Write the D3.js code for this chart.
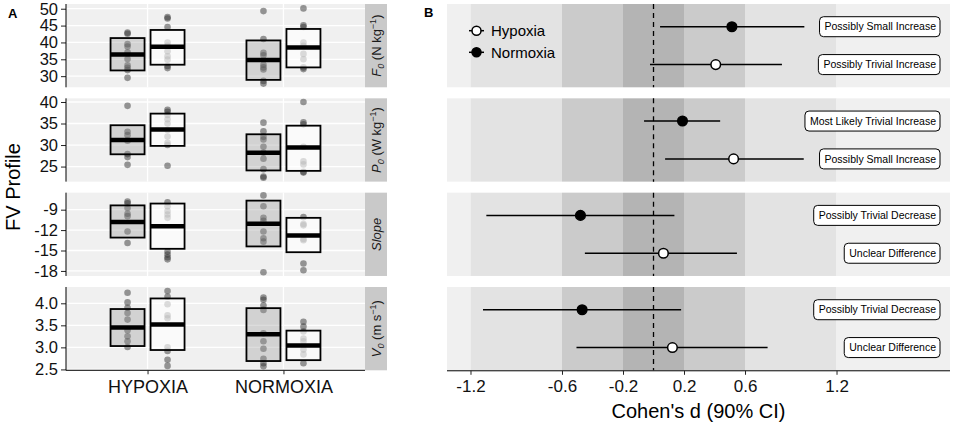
<!DOCTYPE html>
<html><head><meta charset="utf-8">
<script src="https://cdn.jsdelivr.net/npm/d3@7"></script>
<style>
body{margin:0;background:#fff;}
svg{display:block;font-family:"Liberation Sans",Arial,Helvetica,sans-serif;}
</style></head>
<body><svg id="c" width="964" height="429"></svg>
<script>
// ---------------- DATA ----------------
const conditions = ["HYPOXIA", "NORMOXIA"];
const times = ["Pre", "Post"];
const facets = ["F0", "P0", "Slope", "V0"];

// y-axis domains and tick labels per facet
const f0Domain = [26.7, 51.4], f0Ticks = [30, 35, 40, 45, 50];
const p0Domain = [21.5, 40.85], p0Ticks = [25, 30, 35, 40];
const slopeDomain = [-18.74, -6.5], slopeTicks = [-18, -15, -12, -9];
const v0Domain = [2.48, 4.37], v0Ticks = [2.5, 3.0, 3.5, 4.0];

// crossbars [lower, mean, upper]: HYPOXIA Pre, HYPOXIA Post, NORMOXIA Pre, NORMOXIA Post
const f0Bars = [[31.7, 36.4, 41.3], [33.4, 38.7, 43.7], [28.9, 34.8, 40.6], [32.6, 38.5, 44.0]];
const p0Bars = [[27.85, 31.15, 34.6], [29.8, 33.6, 37.3], [24.1, 28.2, 32.5], [24.0, 29.4, 34.5]];
const slopeBars = [[-13.1, -10.8, -8.37], [-14.75, -11.45, -8.1], [-14.4, -11.06, -7.67], [-15.25, -12.8, -10.2]];
const v0Bars = [[3.03, 3.45, 3.87], [2.94, 3.52, 4.11], [2.69, 3.30, 3.89], [2.71, 3.04, 3.38]];

// individual values (same order)
const f0Points = [
  [29.5, 31.8, 32.5, 33.2, 35.1, 37.1, 38.8, 39.5, 42.6, 42.9],
  [47.5, 47.1, 44.6, 40.0, 39.0, 37.4, 35.9, 34.9, 33.0, 32.4],
  [49.3, 41.0, 36.9, 36.2, 33.4, 32.6, 32.0, 28.6, 27.8],
  [50.1, 45.1, 44.6, 40.0, 39.0, 36.6, 35.0, 32.6, 32.1]];
const p0Points = [
  [39.1, 33.1, 32.3, 31.0, 27.9, 27.2, 25.4],
  [38.2, 37.7, 37.0, 36.0, 35.0, 33.5, 32.0, 30.5, 30.0, 25.2],
  [35.2, 33.2, 31.9, 31.3, 29.6, 28.2, 26.8, 24.4, 22.7, 22.4],
  [40.0, 35.3, 34.8, 29.6, 26.2, 25.5, 23.8, 23.6]];
const slopePoints = [
  [-7.8, -8.05, -8.75, -9.6, -9.95, -12.2, -13.9],
  [-7.9, -8.5, -9.2, -9.7, -10.2, -15.15, -15.6, -16.0, -16.3],
  [-6.9, -8.5, -10.2, -10.65, -12.2, -13.2, -13.7, -18.2],
  [-10.1, -11.1, -11.3, -13.3, -13.5, -16.9, -17.9]];
const v0Points = [
  [4.24, 4.02, 3.9, 3.78, 3.63, 3.39, 3.25, 3.14, 3.01],
  [4.28, 4.15, 3.98, 3.73, 3.66, 3.0, 2.92, 2.72, 2.58],
  [4.13, 4.08, 3.95, 3.85, 3.32, 3.14, 2.97, 2.74, 2.64, 2.57],
  [3.58, 3.47, 3.36, 3.2, 3.14, 2.95, 2.84, 2.64]];

// panel B: effect sizes [lower CI, d, upper CI]
const groups = ["Normoxia", "Hypoxia"];
const effectNormoxia = [[0.043, 0.514, 0.989], [-0.062, 0.19, 0.437], [-1.096, -0.479, 0.137], [-1.118, -0.468, 0.181]];
const effectHypoxia = [[-0.023, 0.408, 0.842], [0.076, 0.525, 0.985], [-0.45, 0.065, 0.547], [-0.505, 0.124, 0.748]];
const labelsNormoxia = ["Possibly Small Increase", "Most Likely Trivial Increase", "Possibly Trivial Decrease", "Possibly Trivial Decrease"];
const labelsHypoxia = ["Possibly Trivial Increase", "Possibly Small Increase", "Unclear Difference", "Unclear Difference"];
const dTicks = [-1.2, -0.6, -0.2, 0.2, 0.6, 1.2];
const dDomain = [-1.354, 1.944];
const thresholds = [-1.2, -0.6, -0.2, 0.2, 0.6, 1.2];

// ---------------- DRAW ----------------
const svg = d3.select("#c");
const FONT = "\"Liberation Sans\",Arial,Helvetica,sans-serif";
const hy = s => s.replace(/\u2212/g, "-");
const rowTop = i => 4 + i * 94.33, rowH = 83.3;
const domains = [f0Domain, p0Domain, slopeDomain, v0Domain];
const ticks = [f0Ticks, p0Ticks, slopeTicks, v0Ticks];
const bars = [f0Bars, p0Bars, slopeBars, v0Bars];
const pts = [f0Points, p0Points, slopePoints, v0Points];
const tickFmt = [d3.format("d"), d3.format("d"), d3.format("d"), d3.format(".1f")];

// ----- Panel A -----
const AL = 66, AR = 365, SR = 387;
const xCond = d3.scalePoint().domain(conditions).range([AL, AR]).padding(0.6);
const xTime = d3.scaleBand().domain(times).range([-37, 37]).paddingInner(0.15);

facets.forEach((f, i) => {
  const t = rowTop(i);
  const y = d3.scaleLinear().domain(domains[i]).range([t + rowH, t]);
  const g = svg.append("g");
  g.append("rect").attr("x", AL).attr("y", t).attr("width", AR - AL).attr("height", rowH).attr("fill", "#f0f0f0");
  // grid
  g.selectAll(".hg").data(ticks[i]).join("line")
    .attr("x1", AL).attr("x2", AR).attr("y1", d => y(d)).attr("y2", d => y(d))
    .attr("stroke", "#fff").attr("stroke-width", 1.3);
  g.selectAll(".vg").data(conditions).join("line")
    .attr("x1", d => xCond(d)).attr("x2", d => xCond(d)).attr("y1", t).attr("y2", t + rowH)
    .attr("stroke", "#fff").attr("stroke-width", 1.3);
  // y axis
  const ax = g.append("g").attr("transform", `translate(${AL},0)`)
    .call(d3.axisLeft(y).tickValues(ticks[i]).tickFormat(d => hy(tickFmt[i](d))).tickSize(5).tickPadding(3));
  ax.select(".domain").remove();
  ax.selectAll("text").attr("font-size", 16.5).attr("fill", "#111").attr("font-family", FONT);
  ax.selectAll(".tick line").attr("stroke", "#222");
  g.append("line").attr("x1", AL).attr("x2", AL).attr("y1", t).attr("y2", t + rowH).attr("stroke", "#000").attr("stroke-width", 1);
  // points
  const cells = [];
  conditions.forEach((c, ci) => times.forEach((tm, ti) => cells.push({c, tm, k: ci * 2 + ti})));
  const cx = d => xCond(d.c) + xTime(d.tm) + xTime.bandwidth() / 2;
  cells.forEach(cell => {
    g.selectAll(null).data(pts[i][cell.k]).join("circle")
      .attr("cx", cx(cell)).attr("cy", d => y(d)).attr("r", 3.3)
      .attr("fill", "#333").attr("fill-opacity", 0.5);
  });
  // crossbars
  cells.forEach(cell => {
    const b = bars[i][cell.k];
    const x0 = xCond(cell.c) + xTime(cell.tm);
    g.append("rect").attr("x", x0).attr("y", y(b[2])).attr("width", xTime.bandwidth()).attr("height", y(b[0]) - y(b[2]))
      .attr("fill", cell.tm === "Pre" ? "#9a9a9a" : "#ffffff").attr("fill-opacity", cell.tm === "Pre" ? 0.35 : 0.65)
      .attr("stroke", "#000").attr("stroke-width", 1.8);
    g.append("line").attr("x1", x0).attr("x2", x0 + xTime.bandwidth()).attr("y1", y(b[1])).attr("y2", y(b[1]))
      .attr("stroke", "#000").attr("stroke-width", 4.5);
  });
  // strip
  g.append("rect").attr("x", AR).attr("y", t).attr("width", SR - AR).attr("height", rowH).attr("fill", "#c9c9c9");
  const st = g.append("text").attr("transform", `translate(${(AR + SR) / 2 + 4.5},${t + rowH / 2}) rotate(-90)`)
    .attr("text-anchor", "middle").attr("font-size", 13).attr("fill", "#1a1a1a");
  if (f === "Slope") {
    st.append("tspan").attr("font-style", "italic").text("Slope");
  } else {
    const sym = f[0], unit = f === "F0" ? "N kg" : f === "P0" ? "W kg" : "m s";
    st.append("tspan").attr("font-style", "italic").text(sym);
    st.append("tspan").attr("font-style", "italic").attr("font-size", 9).attr("dy", 3).text("0");
    st.append("tspan").attr("dy", -3).text(" (" + unit);
    st.append("tspan").attr("font-size", 9).attr("dy", -5).text("−1");
    st.append("tspan").attr("dy", 5).text(")");
  }
});
// x axis of panel A
const axA = svg.append("g").attr("transform", `translate(0,${rowTop(3) + rowH})`)
  .call(d3.axisBottom(xCond).tickSize(4).tickPadding(6));
axA.select(".domain").attr("d", `M${AL},0H${AR}`).attr("stroke", "#000");
axA.selectAll("text").attr("font-size", 18).attr("fill", "#111").attr("font-family", FONT);
axA.selectAll(".tick line").attr("stroke", "#222");
svg.append("text").attr("transform", "translate(20,187) rotate(-90)").attr("text-anchor", "middle")
  .attr("font-size", 20).attr("fill", "#000").text("FV Profile");
svg.append("text").attr("x", 8).attr("y", 18).attr("font-size", 13).attr("font-weight", "bold").text("A");

// ----- Panel B -----
const BL = 447, BR = 950;
const xd = d3.scaleLinear().domain(dDomain).range([BL, BR]);
const bandEdges = [dDomain[0]].concat(thresholds, [dDomain[1]]);
const bandFill = ["#f0f0f0", "#e3e3e3", "#cbcbcb", "#b4b4b4", "#cbcbcb", "#e3e3e3", "#f0f0f0"];
const effects = [effectNormoxia, effectHypoxia];
const labs = [labelsNormoxia, labelsHypoxia];
facets.forEach((f, i) => {
  const t = rowTop(i);
  const yg = d3.scalePoint().domain(groups).range([t, t + rowH]).padding(0.6);
  const g = svg.append("g");
  g.selectAll(null).data(d3.range(bandEdges.length - 1)).join("rect")
    .attr("x", k => xd(bandEdges[k])).attr("width", k => xd(bandEdges[k + 1]) - xd(bandEdges[k]))
    .attr("y", t).attr("height", rowH).attr("fill", k => bandFill[k]);
  g.append("line").attr("x1", xd(0)).attr("x2", xd(0)).attr("y1", t).attr("y2", t + rowH)
    .attr("stroke", "#000").attr("stroke-width", 1.3).attr("stroke-dasharray", "5,4");
  groups.forEach((grp, gi) => {
    const e = effects[gi][i], yy = yg(grp);
    g.append("line").attr("x1", xd(e[0])).attr("x2", xd(e[2])).attr("y1", yy).attr("y2", yy)
      .attr("stroke", "#000").attr("stroke-width", 1.5);
    g.append("circle").attr("cx", xd(e[1])).attr("cy", yy).attr("r", 4.8)
      .attr("fill", grp === "Hypoxia" ? "#fff" : "#000").attr("stroke", "#000").attr("stroke-width", 1.5);
    const lt = g.append("text").attr("x", 936).attr("y", yy).attr("dy", "0.35em").attr("text-anchor", "end")
      .attr("font-size", 10.5).attr("fill", "#000").text(labs[gi][i]);
    const w = lt.node().getComputedTextLength();
    g.insert("rect", "text").attr("x", 936 - w - 5).attr("y", yy - 10).attr("width", w + 9).attr("height", 20)
      .attr("rx", 4).attr("fill", "#fff").attr("stroke", "#000").attr("stroke-width", 1);
  });
});
// x axis panel B
const axB = svg.append("g").attr("transform", `translate(0,${rowTop(3) + rowH + 0.5})`)
  .call(d3.axisBottom(xd).tickValues(dTicks).tickFormat(d => hy(d3.format(".1f")(d))).tickSize(4).tickPadding(5));
axB.select(".domain").attr("d", `M${BL},0H${BR}`).attr("stroke", "#000");
axB.selectAll("text").attr("font-size", 17).attr("fill", "#111").attr("font-family", FONT);
axB.selectAll(".tick line").attr("stroke", "#222");
svg.append("text").attr("x", (BL + BR) / 2).attr("y", 418).attr("text-anchor", "middle")
  .attr("font-size", 20).attr("fill", "#000").text("Cohen's d (90% CI)");
svg.append("text").attr("x", 424).attr("y", 17).attr("font-size", 13).attr("font-weight", "bold").text("B");
// legend
const legendItems = ["Hypoxia", "Normoxia"];
const lg = svg.append("g");
legendItems.forEach((name, k) => {
  const yy = 30.7 + k * 21.6;
  lg.append("line").attr("x1", 469).attr("x2", 484).attr("y1", yy).attr("y2", yy).attr("stroke", "#000").attr("stroke-width", 1.5);
  lg.append("circle").attr("cx", 476.5).attr("cy", yy).attr("r", 4.5)
    .attr("fill", name === "Hypoxia" ? "#fff" : "#000").attr("stroke", "#000").attr("stroke-width", 1.5);
  lg.append("text").attr("x", 491).attr("y", yy).attr("dy", "0.35em").attr("font-size", 15).attr("fill", "#000").text(name);
});
</script></body></html>
